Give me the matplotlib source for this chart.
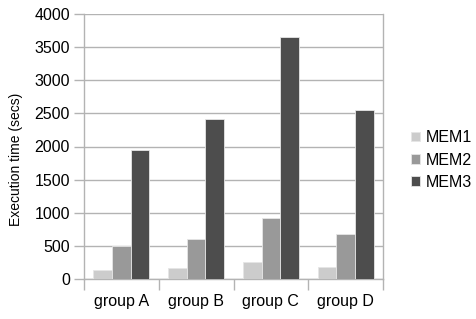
import matplotlib
matplotlib.use("Agg")
import matplotlib.pyplot as plt
import numpy as np

categories = ["group A", "group B", "group C", "group D"]
series_names = ["MEM1", "MEM2", "MEM3"]
mem1 = [140, 170, 260, 175]
mem2 = [500, 600, 920, 680]
mem3 = [1940, 2410, 3650, 2550]
colors = ["#cccccc", "#999999", "#4d4d4d"]

plt.rcParams['font.family'] = ['Liberation Sans', 'DejaVu Sans']

fig = plt.figure(figsize=(4.76, 3.19), dpi=100)
ax = fig.add_axes([84/476, 1 - 279/319, (383-84)/476, (279-14)/319])

x = np.arange(len(categories))
w = 0.25
for i, (vals, name, c) in enumerate(zip([mem1, mem2, mem3], series_names, colors)):
    ax.bar(x + (i - 1) * w, vals, width=w, color=c, label=name,
           edgecolor="#e6e6e6", linewidth=0.6, zorder=3)

ax.set_xlim(-0.5, len(categories) - 0.5)
ax.set_ylim(0, 4000)
ax.set_yticks(np.arange(0, 4001, 500))
ax.yaxis.grid(True, color="#b3b3b3", linewidth=1, zorder=0)
ax.set_axisbelow(True)

ax.set_xticks(np.arange(-0.5, len(categories), 1.0))
ax.set_xticklabels([])
ax.set_xticks(x, minor=True)
ax.set_xticklabels(categories, minor=True)
ax.tick_params(axis='x', which='minor', length=0, pad=11, labelsize=11.5)
ax.tick_params(axis='x', which='major', length=8, color="#b3b3b3", width=1)
ax.tick_params(axis='y', length=7, color="#b3b3b3", width=1, labelsize=11.5, pad=3)

for s in ["left", "bottom", "right"]:
    ax.spines[s].set_color("#b3b3b3")
    ax.spines[s].set_linewidth(1)
ax.spines["top"].set_visible(False)

ax.set_ylabel("Execution time (secs)", fontsize=10, labelpad=8, y=0.45)

leg = ax.legend(loc="center left", bbox_to_anchor=(1.045, 0.449), frameon=False,
                fontsize=11.5, handlelength=0.55, handleheight=0.55,
                handletextpad=0.4, labelspacing=0.45)

fig.savefig("out.png", dpi=100)
